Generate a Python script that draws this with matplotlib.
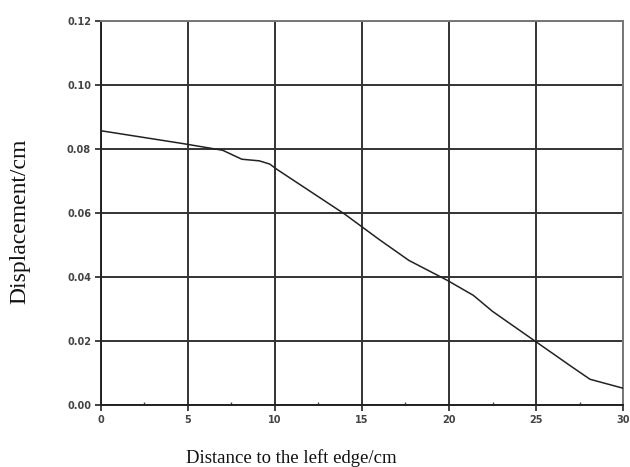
import matplotlib
matplotlib.use("Agg")
import matplotlib.pyplot as plt
from matplotlib.ticker import MultipleLocator

# displacement along the plate, read at the bends of the curve
distance = [0.0, 4.7, 7.0, 8.1, 9.1, 9.7, 10.1, 14.0, 16.0, 17.7, 19.9, 21.4, 22.5,
            25.0, 27.0, 28.1, 30.0]
displacement = [0.0856, 0.0816, 0.0795, 0.0767, 0.0762, 0.0752, 0.0736, 0.0596, 0.0516,
                0.0451, 0.0389, 0.0342, 0.0292, 0.0197, 0.0121, 0.0080, 0.0052]

x_ticks = [0, 5, 10, 15, 20, 25, 30]
y_ticks = [0.00, 0.02, 0.04, 0.06, 0.08, 0.10, 0.12]

fig = plt.figure(figsize=(6.3, 4.67), dpi=100)
ax = fig.add_axes([0.16, 0.133, 0.829, 0.823])

ax.plot(distance, displacement, color="#222222", lw=1.1, zorder=3)

ax.set_xlim(0, 30)
ax.set_ylim(0, 0.12)
ax.set_xticks(x_ticks)
ax.set_yticks(y_ticks)
ax.set_xticklabels([str(t) for t in x_ticks])
ax.set_yticklabels(["%.2f" % t for t in y_ticks])
ax.xaxis.set_minor_locator(MultipleLocator(2.5))

ax.grid(True, which="major", color="#333333", lw=1.4)
ax.set_axisbelow(True)

for side in ["left", "bottom"]:
    ax.spines[side].set_color("#222222")
    ax.spines[side].set_linewidth(1.4)
for side in ["top", "right"]:
    ax.spines[side].set_color("#777777")
    ax.spines[side].set_linewidth(1.4)

ax.tick_params(which="major", direction="out", length=4, width=1.2, color="#222222",
               labelsize=7, labelcolor="#444444", pad=3)
ax.tick_params(which="minor", direction="in", length=2, width=1.0, color="#444444")
for lab in ax.get_xticklabels() + ax.get_yticklabels():
    lab.set_fontweight("bold")
    lab.set_family("DejaVu Sans")

# axis titles placed in figure pixels: the x title sits left of the axes centre
fig.text(291 / 630, 1 - 458 / 467, "Distance to the left edge/cm", family="Liberation Serif",
         fontsize=13.5, color="#111111", ha="center", va="center")
fig.text(20 / 630, 1 - 221 / 467, "Displacement/cm", family="Liberation Serif",
         fontsize=17, color="#111111", ha="center", va="center", rotation=90)

fig.savefig("out.png", dpi=100, facecolor="white")
